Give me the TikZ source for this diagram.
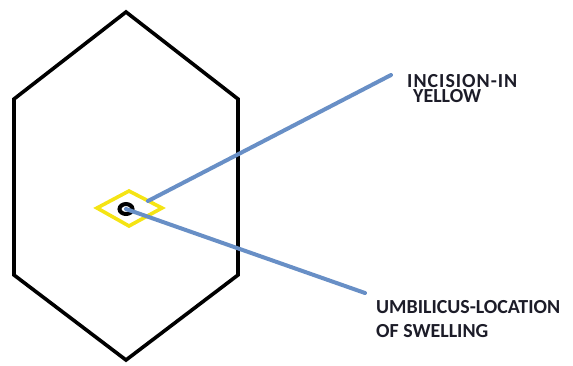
\documentclass[tikz,border=0pt]{standalone}
\usepackage{fontspec}
\usetikzlibrary{shapes.geometric}
\setmainfont{Carlito}
\definecolor{leadblue}{RGB}{104,143,198}
\definecolor{incyellow}{RGB}{245,228,20}
\definecolor{labelink}{RGB}{28,28,40}
\begin{document}
\begin{tikzpicture}[x=1bp,y=-1bp,
  outline/.style={draw=black,line width=3.6bp,line join=miter},
  leader/.style={draw=leadblue,line width=4bp,line cap=round},
  label/.style={text=labelink,align=left,anchor=north west,inner sep=0pt}]
\useasboundingbox (0,0) rectangle (573,365);
% abdomen outline
\coordinate (t) at (126,12);
\coordinate (ur) at (238,99);
\coordinate (lr) at (238,275);
\coordinate (b) at (126,360);
\coordinate (ll) at (14,275);
\coordinate (ul) at (14,99);
\draw[outline] (t) -- (ur) -- (lr) -- (b) -- (ll) -- (ul) -- cycle;
% incision around the umbilicus
\coordinate (dl) at (97,208);
\coordinate (dt) at (129,191);
\coordinate (dr) at (162,208);
\coordinate (db) at (129,226);
\draw[draw=incyellow,line width=3.6bp,line join=miter] (dl) -- (dt) -- (dr) -- (db) -- cycle;
% umbilicus
\node[draw=black,line width=4bp,ellipse,minimum width=13bp,minimum height=10bp,inner sep=0pt] (umb) at (126,209) {};
% labels
\node[label,font=\bfseries\fontsize{20}{15.5}\selectfont] (inc) at (407,74)
  {{\addfontfeature{LetterSpace=5}INCISION-IN}\\\hspace*{6bp}YELLOW};
\node[label,font=\bfseries\fontsize{20}{24}\selectfont] (umbl) at (376,300)
  {UMBILICUS-LOCATION\\OF SWELLING};
% leader lines
\coordinate (incend) at (391,75);
\coordinate (umbend) at (365,293);
\coordinate (incstart) at (148,201);
\draw[leader] (incstart) -- (incend);
\draw[leader] (umb.center) -- (umbend);
\end{tikzpicture}
\end{document}
